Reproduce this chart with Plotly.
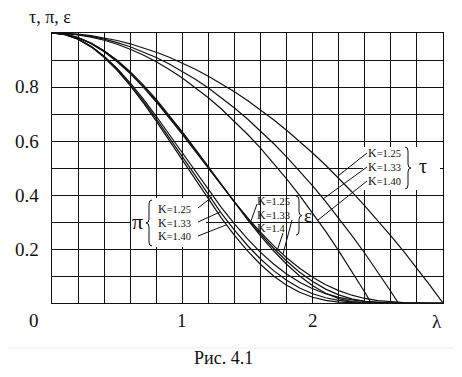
import plotly.graph_objects as go

# ---------------- data ----------------
lam_125 = [0, 0.1, 0.2, 0.3, 0.4, 0.5, 0.6, 0.7, 0.8, 0.9, 1.0, 1.1, 1.2, 1.3, 1.4, 1.5,
           1.6, 1.7, 1.8, 1.9, 2.0, 2.1, 2.2, 2.3, 2.4, 2.5, 2.6, 2.7, 2.8, 2.9, 3.0]
tau_125 = [1, .9989, .9956, .99, .9822, .9722, .96, .9456, .9289, .91, .8889, .8656, .84, .8122,
           .7822, .75, .7156, .6789, .64, .5989, .5556, .51, .4622, .4122, .36, .3056, .2489,
           .19, .1289, .0656, 0]
eps_125 = [1, .9956, .9824, .9606, .9308, .8934, .8494, .7994, .7445, .6858, .6243, .5613, .4979,
           .4352, .3744, .3164, .2622, .2124, .1678, .1286, .0953, .0677, .0457, .0289, .0168,
           .0087, .0038, .0013, .0003, 0, 0]
pi_125 = [1, .9945, .978, .951, .9142, .8686, .8154, .7559, .6916, .624, .5549, .4858, .4182,
          .3535, .2929, .2373, .1876, .1442, .1074, .077, .0529, .0345, .0211, .0119, .0061,
          .0027, .001, .0003, 0, 0, 0]

lam_133 = [0, 0.1, 0.2, 0.3, 0.4, 0.5, 0.6, 0.7, 0.8, 0.9, 1.0, 1.1, 1.2, 1.3, 1.4, 1.5,
           1.6, 1.7, 1.8, 1.9, 2.0, 2.1, 2.2, 2.3, 2.4, 2.5, 2.6, 2.657]
tau_133 = [1, .9986, .9943, .9873, .9773, .9646, .949, .9306, .9094, .8853, .8584, .8286, .7961,
           .7606, .7224, .6813, .6374, .5907, .5411, .4887, .4335, .3754, .3145, .2508, .1842,
           .1148, .0426, 0]
eps_133 = [1, .9957, .9829, .9619, .9329, .8965, .8533, .8042, .7498, .6913, .6295, .5657, .501,
           .4365, .3733, .3126, .2555, .2028, .1555, .1142, .0794, .0514, .03, .0151, .0059,
           .0014, .0001, 0]
pi_133 = [1, .9943, .9773, .9496, .9118, .8648, .8098, .7484, .6819, .612, .5404, .4688, .3988,
          .332, .2697, .213, .1628, .1198, .0842, .0558, .0344, .0193, .0094, .0038, .0011,
          .0002, 0, 0]

lam_140 = [0, 0.1, 0.2, 0.3, 0.4, 0.5, 0.6, 0.7, 0.8, 0.9, 1.0, 1.1, 1.2, 1.3, 1.4, 1.5,
           1.6, 1.7, 1.8, 1.9, 2.0, 2.1, 2.2, 2.3, 2.4, 2.449]
tau_140 = [1, .9983, .9933, .985, .9733, .9583, .94, .9183, .8933, .865, .8333, .7983, .76,
           .7183, .6733, .625, .5733, .5183, .46, .3983, .3333, .265, .1933, .1183, .04, 0]
eps_140 = [1, .9958, .9834, .9629, .9347, .8991, .8567, .8082, .7543, .6959, .6339, .5695,
           .5035, .4373, .372, .3088, .2489, .1934, .1435, .1001, .0642, .0362, .0164, .0048,
           .0003, 0]
pi_140 = [1, .9942, .9769, .9485, .9097, .8616, .8053, .7422, .6738, .6019, .5283, .4546,
          .3827, .3142, .2505, .193, .1427, .1003, .066, .0399, .0214, .0096, .0032, .0006, 0, 0]

y_tick_labels = ["0.2", "0.4", "0.6", "0.8"]
y_tick_vals = [0.2, 0.4, 0.6, 0.8]
x_tick_labels = ["1", "2"]
x_tick_vals = [1, 2]
k_labels_3 = ["1.25", "1.33", "1.40"]
k_labels_eps = ["1.25", "1.33", "1.4"]

FONT = "Liberation Serif"
INK = "#111111"

# ---------------- layout geometry (pixels of the 462x377 window) ----------------
W, H = 462, 377
PAGE = 8                      # default body margin of the html page
L, R, T, B = 52, 443, 33, 303  # plot area in window pixels
XMAX, YMAX = 3.0, 1.0


def X(px):
    return (px - L) / (R - L) * XMAX


def Y(py):
    return (B - py) / (B - T) * YMAX


def PX(px):
    return (px - L) / (R - L)


def PY(py):
    return (B - py) / (B - T)


fig = go.Figure()

series = [
    (lam_125, tau_125), (lam_133, tau_133), (lam_140, tau_140),
    (lam_125, eps_125), (lam_133, eps_133), (lam_140, eps_140),
    (lam_125, pi_125), (lam_133, pi_133), (lam_140, pi_140),
]
for xs, ys in series:
    fig.add_trace(go.Scatter(x=xs, y=ys, mode="lines",
                             line=dict(color=INK, width=1.2),
                             showlegend=False, hoverinfo="skip"))

shapes = []
annotations = []

# white boxes behind label blocks (hide grid)
for (x0, x1, y0, y1) in [(131, 206, 198, 247), (363, 440, 147, 190)]:
    shapes.append(dict(type="rect", xref="x", yref="y", x0=X(x0), x1=X(x1),
                       y0=Y(y1), y1=Y(y0), fillcolor="white", line=dict(width=0),
                       layer="above"))


def brace(x0, x1, y0, y1, left=True, d=4):
    ym = (y0 + y1) / 2
    mid = (x0 + x1) / 2
    outer, tip = (x1, x0) if left else (x0, x1)
    pts = [("M", outer, y0), ("Q", mid, y0), ("", mid, y0 + d), ("L", mid, ym - d),
           ("Q", mid, ym), ("", tip, ym), ("Q", mid, ym), ("", mid, ym + d),
           ("L", mid, y1 - d), ("Q", mid, y1), ("", outer, y1)]
    s = ""
    for cmd, px, py in pts:
        s += f"{cmd}{X(px):.5f},{Y(py):.5f} "
    return s.strip()


for (x0, x1, y0, y1, left) in [(146, 152, 200, 246, True),
                               (296, 302, 196, 235, False),
                               (405, 411, 147, 189, False)]:
    shapes.append(dict(type="path", xref="x", yref="y", path=brace(x0, x1, y0, y1, left),
                       line=dict(color=INK, width=1), layer="above"))

# leader lines
leaders = [
    ((198, 208), (212, 197)), ((198, 222), (220, 212)), ((198, 236), (226, 225)),   # pi
    ((257, 204), (251, 221)), ((292, 220), (283, 254)), ((283, 233), (277, 251)),   # eps
    ((367, 153), (338, 176)), ((367, 167), (323, 199)), ((367, 181), (318, 220)),   # tau
]
for (a, b) in leaders:
    shapes.append(dict(type="line", xref="x", yref="y", x0=X(a[0]), y0=Y(a[1]),
                       x1=X(b[0]), y1=Y(b[1]), line=dict(color=INK, width=1), layer="above"))

# faint separator line under the axis labels
shapes.append(dict(type="line", xref="paper", yref="paper",
                   x0=PX(PAGE), x1=PX(W - PAGE), y0=PY(348), y1=PY(348),
                   line=dict(color="#ececec", width=1)))


def ann(px, py, text, size, xanchor="center", yanchor="middle", height=None):
    a = dict(x=PX(px), y=PY(py), xref="paper", yref="paper", text=text,
             showarrow=False, xanchor=xanchor, yanchor=yanchor,
             font=dict(family=FONT, size=size, color=INK))
    if height is not None:
        a["height"] = height
        a["borderpad"] = 0
    annotations.append(a)


def klabel(v):
    return f"K<span style='font-size:10.5px'>={v}</span>"


# tick labels
for v, t in zip(y_tick_vals, y_tick_labels):
    annotations.append(dict(x=PX(41), y=v / YMAX, xref="paper", yref="paper", text=t,
                            showarrow=False, xanchor="right", yanchor="middle",
                            font=dict(family=FONT, size=19, color=INK)))
for v, t in zip(x_tick_vals, x_tick_labels):
    annotations.append(dict(x=v / XMAX, y=PY(320), xref="paper", yref="paper", text=t,
                            showarrow=False, xanchor="center", yanchor="middle",
                            font=dict(family=FONT, size=19, color=INK)))
ann(34, 320, "0", 19)
ann(437, 321, "λ", 19)
ann(50, 17, "τ, π, ε", 18)
ann(223, 358, "Рис. 4.1", 18)

# label blocks
ann(137, 221, "π", 22)
for i, v in enumerate(k_labels_3):
    ann(157, 209 + 13.5 * i, klabel(v), 12, xanchor="left", height=12)
for i, v in enumerate(k_labels_eps):
    ann(256, 201 + 13.5 * i, klabel(v), 12, xanchor="left", height=12)
ann(308, 215, "ε", 19)
for i, v in enumerate(k_labels_3):
    ann(367, 153 + 14 * i, klabel(v), 12, xanchor="left", height=12)
ann(423, 166, "τ", 20)

axis_common = dict(showgrid=True, gridcolor=INK, gridwidth=1.3, zeroline=False,
                   showline=True, linecolor=INK, linewidth=1.3, mirror=True,
                   showticklabels=False, ticks="", fixedrange=True)

# figure is shifted by the page's 8px body margin, so size/margins compensate
fig.update_layout(
    width=W - 2 * PAGE, height=H - 2 * PAGE,
    margin=dict(l=L - PAGE, r=(W - PAGE) - R, t=T - PAGE, b=(H - PAGE) - B),
    paper_bgcolor="white", plot_bgcolor="white",
    xaxis=dict(range=[0, XMAX], dtick=0.2, tick0=0, **axis_common),
    yaxis=dict(range=[0, YMAX], dtick=0.1, tick0=0, **axis_common),
    shapes=shapes, annotations=annotations,
    font=dict(family=FONT, color=INK),
)

fig.write_html("out.html")
